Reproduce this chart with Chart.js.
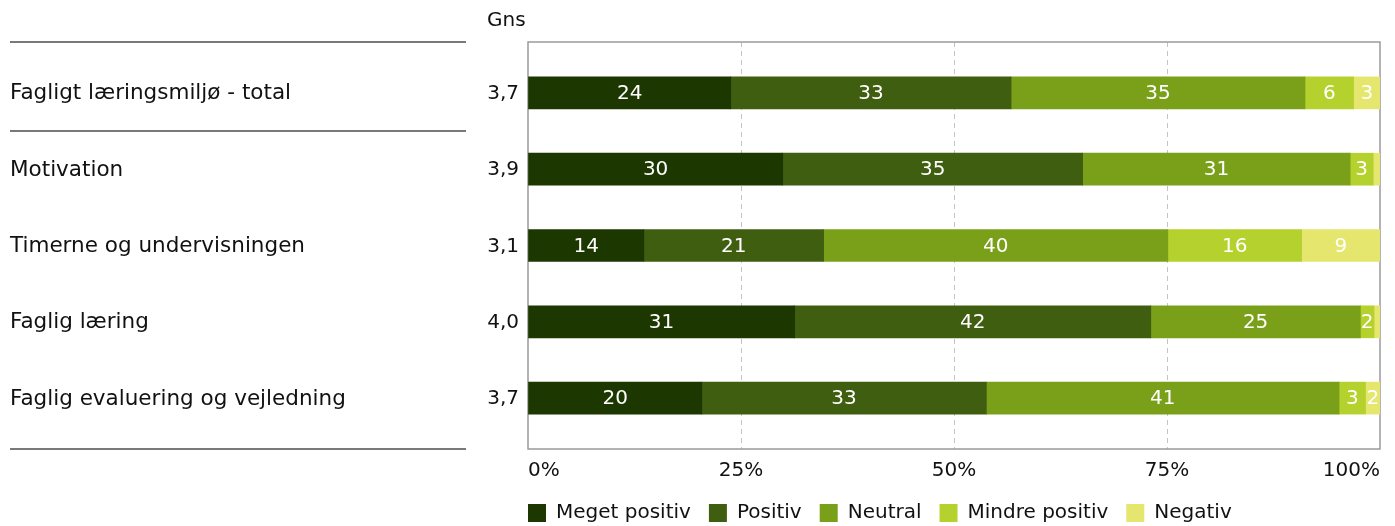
<!DOCTYPE html>
<html>
<head>
<meta charset="utf-8">
<script src="https://cdn.jsdelivr.net/npm/chart.js@4/dist/chart.umd.min.js"></script>
<style>
  html, body { margin: 0; padding: 0; background: #fff; }
  #wrap { width: 1395px; height: 526px; position: relative; }
</style>
</head>
<body>
<div id="wrap"><canvas id="chart1"></canvas></div>
<script>
'use strict'

// data (percent)
var categories = ["Fagligt læringsmiljø - total", "Motivation", "Timerne og undervisningen", "Faglig læring", "Faglig evaluering og vejledning"];
var averages = ["3,7", "3,9", "3,1", "4,0", "3,7"];
var seriesNames = ["Meget positiv", "Positiv", "Neutral", "Mindre positiv", "Negativ"];
var megetPositiv = [23.8, 29.9, 13.6, 31.3, 20.4];
var positiv = [32.9, 35.2, 21.1, 41.8, 33.4];
var neutral = [34.5, 31.4, 40.4, 24.6, 41.4];
var mindrePositiv = [5.7, 2.7, 15.7, 1.6, 3.1];
var negativ = [3.1, 0.8, 9.2, 0.7, 1.7];
var xTicks = [0, 25, 50, 75, 100];

var colors = ["#1d3700", "#405e10", "#7aa01a", "#b4d12d", "#e4e66e"];
var allSeries = [megetPositiv, positiv, neutral, mindrePositiv, negativ];
var FONT = "DejaVu Sans";

var datasets = allSeries.map(function(vals, s) {
  return {
    label: seriesNames[s],
    backgroundColor: colors[s],
    borderWidth: 0,
    barThickness: 32,
    data: vals.map(function(v, i) { return { x: v, y: i }; })
  };
});

// left side labels, averages, separators, frame and value labels
var decor = {
  id: 'decor',
  beforeDatasetsDraw: function(chart) {
    var ctx = chart.ctx, a = chart.chartArea;
    ctx.save();
    ctx.strokeStyle = "#9a9a9a";
    ctx.lineWidth = 1.5;
    ctx.strokeRect(a.left, a.top, a.right - a.left, a.bottom - a.top);
    ctx.restore();
  },
  afterDatasetsDraw: function(chart) {
    var ctx = chart.ctx, a = chart.chartArea;
    var yScale = chart.scales.y;
    ctx.save();
    // value labels
    ctx.font = "20px '" + FONT + "'";
    ctx.fillStyle = "#fff";
    ctx.textAlign = "center";
    ctx.textBaseline = "middle";
    chart.data.datasets.forEach(function(ds, s) {
      var meta = chart.getDatasetMeta(s);
      meta.data.forEach(function(bar, i) {
        var v = ds.data[i].x;
        if (v < 1) return;
        ctx.fillText(Math.round(v), (bar.x + bar.base) / 2, bar.y + 1);
      });
    });
    // category labels and averages
    ctx.fillStyle = "#111";
    categories.forEach(function(c, i) {
      var y = yScale.getPixelForValue(i) + 1;
      ctx.font = "21.5px '" + FONT + "'";
      ctx.textAlign = "left";
      ctx.fillText(c, 10, y);
      ctx.font = "20px '" + FONT + "'";
      ctx.textAlign = "right";
      ctx.fillText(averages[i], 519, y);
    });
    ctx.textAlign = "left";
    ctx.fillText("Gns", 487, 21);
    // separators
    ctx.strokeStyle = "#4d4d4d";
    ctx.lineWidth = 1.5;
    [a.top, yScale.getPixelForValue(0.5), a.bottom].forEach(function(y) {
      ctx.beginPath();
      ctx.moveTo(10, y);
      ctx.lineTo(466, y);
      ctx.stroke();
    });
    ctx.restore();
  }
};

Chart.defaults.font.family = FONT;
Chart.defaults.font.size = 20;
Chart.defaults.color = "#111";

var chart1 = new Chart(document.getElementById("chart1"), {
  type: 'bar',
  data: { datasets: datasets },
  options: {
    indexAxis: 'y',
    responsive: true,
    maintainAspectRatio: false,
    animation: false,
    layout: { padding: { left: 510, right: 15, top: 42, bottom: -7 } },
    scales: {
      x: {
        stacked: true,
        min: 0,
        max: 100,
        afterBuildTicks: function(scale) {
          scale.ticks = xTicks.map(function(v) { return { value: v }; });
        },
        afterFit: function(scale) { scale.height = 36; },
        ticks: {
          align: 'inner',
          padding: 10,
          callback: function(v) { return v + "%"; }
        },
        grid: {
          drawTicks: false,
          color: function(c) {
            var v = c.tick ? c.tick.value : 0;
            return (v === 0 || v === 100) ? "rgba(0,0,0,0)" : "#c4c4c4";
          }
        },
        border: { display: false, dash: [5, 4] }
      },
      y: {
        type: 'linear',
        stacked: true,
        reverse: true,
        offset: false,
        min: -0.667,
        max: 4.667,
        afterFit: function(scale) { scale.width = 18; },
        ticks: { display: false },
        grid: { display: false },
        border: { display: false }
      }
    },
    plugins: {
      legend: {
        position: 'bottom',
        align: 'start',
        labels: {
          boxWidth: 18,
          boxHeight: 18,
          padding: 18,
          color: "#111",
          font: { size: 20 }
        }
      },
      tooltip: { enabled: false }
    }
  },
  plugins: [decor]
});
</script>
</body>
</html>
